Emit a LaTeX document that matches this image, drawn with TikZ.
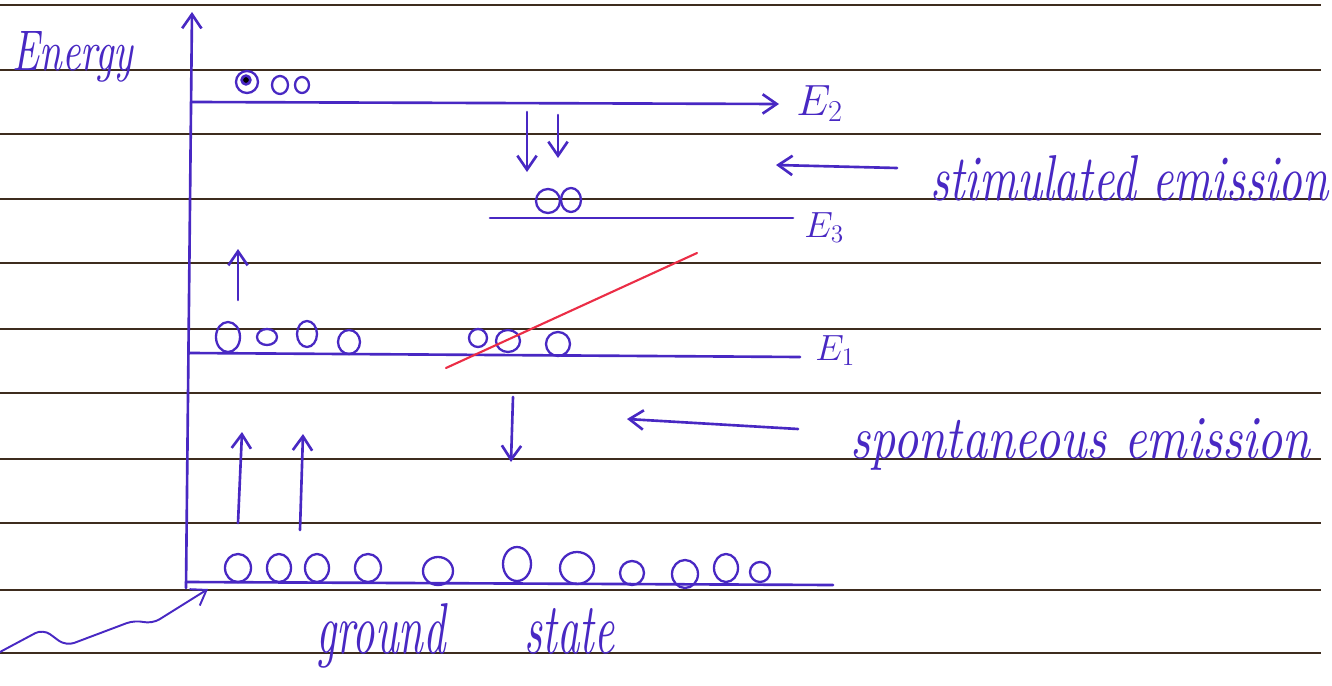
\documentclass[tikz,border=0pt]{standalone}
\usetikzlibrary{arrows.meta}
\definecolor{ink}{RGB}{72,40,195}
\definecolor{rulec}{RGB}{62,44,30}
\definecolor{redink}{RGB}{235,45,70}
\tikzset{
  ink/.style={draw=ink, line width=1.5pt, line cap=round, line join=round},
  tip/.style={-{Straight Barb[length=8pt,width=11pt]}},
  ruled/.style={draw=rulec, line width=1.1pt},
  hand/.style={text=ink, inner sep=0pt, font=\itshape},
  particle/.style={draw=ink, line width=1.3pt}
}
\begin{document}
\begin{tikzpicture}[x=0.02cm,y=-0.02cm]
\useasboundingbox[fill=white] (0,0) rectangle (1332,686);
% ruled paper
\foreach \yy in {5,70,134,199,263,329,393,459,523,590,653}
  \draw[ruled] (0,\yy) -- (1321,\yy);

% energy axis
\coordinate (axb) at (186,588);
\coordinate (axt) at (192,12);
\draw[ink,tip] (axb) -- (axt);
\node[hand, anchor=base west] (energy) at (12,71) {\resizebox{2.42cm}{0.78cm}{Energy}};

% levels
\coordinate (e2a) at (192,102); \coordinate (e2b) at (779,104);
\draw[ink,tip] (e2a) -- (e2b);
\node[hand, anchor=base west] (E2) at (796,115) {\fontsize{23}{23}\selectfont$E_2$};

\coordinate (e3a) at (490,218); \coordinate (e3b) at (793,218);
\draw[ink] (e3a) -- (e3b);
\node[hand, anchor=base west] (E3) at (804,237) {\fontsize{22}{22}\selectfont$E_3$};

\coordinate (e1a) at (190,353); \coordinate (e1b) at (800,357);
\draw[ink] (e1a) -- (e1b);
\node[hand, anchor=base west] (E1) at (815,360) {\fontsize{21}{21}\selectfont$E_1$};

\coordinate (g0a) at (186,582); \coordinate (g0b) at (833,585);
\draw[ink] (g0a) -- (g0b);
\node[hand, anchor=base west] (ground) at (316,653) {\resizebox{5.96cm}{1.0cm}{ground\hspace{1.8em}state}};

% particles
\foreach \cx/\cy/\rx/\ry in {247/82/11/11, 280/85/8/9, 302/85/7/8,
  548/201/12/12, 571/200/10/12,
  228/337/12/15, 267/337/10/8, 307/334/10/13, 349/342/11/12,
  478/338/9/9, 508/341/12/11, 558/344/12/12,
  238/568/13/14, 279/568/12/14, 317/568/12/14, 368/568/13/14, 438/571/15/14,
  517/564/14/17, 577/568/17/16, 632/573/12/12, 685/574/13/14, 726/568/12/14, 760/572/10/10}
  \draw[particle] (\cx,\cy) ellipse [x radius=\rx*0.02cm, y radius=\ry*0.02cm];
\fill[ink] (246,80) circle [radius=2.5pt];

% transitions
\coordinate (d1a) at (527,112); \coordinate (d1b) at (527,172);
\coordinate (d2a) at (558,115); \coordinate (d2b) at (558,158);
\draw[ink,tip] (d1a) -- (d1b);
\draw[ink,tip] (d2a) -- (d2b);

\coordinate (sa) at (897,168); \coordinate (sb) at (776,165);
\draw[ink,tip] (sa) -- (sb);
\node[hand, anchor=base west] (stim) at (930,200) {\resizebox{7.96cm}{0.9cm}{stimulated emission}};

\coordinate (u1a) at (238,300); \coordinate (u1b) at (238,249);
\draw[ink,tip] (u1a) -- (u1b);

\coordinate (u2a) at (238,523); \coordinate (u2b) at (242,432);
\coordinate (u3a) at (300,530); \coordinate (u3b) at (303,434);
\draw[ink,tip] (u2a) -- (u2b);
\draw[ink,tip] (u3a) -- (u3b);

\coordinate (dda) at (513,397); \coordinate (ddb) at (511,462);
\draw[ink,tip] (dda) -- (ddb);

\coordinate (pa) at (798,429); \coordinate (pb) at (627,419);
\draw[ink,tip] (pa) -- (pb);
\node[hand, anchor=base west] (spont) at (850,458) {\resizebox{9.2cm}{0.8cm}{spontaneous emission}};

% wavy pointer to ground level
\coordinate (w0) at (0,652); \coordinate (w1) at (43,629); \coordinate (w2) at (66,646);
\coordinate (w3) at (135,620); \coordinate (w4) at (152,624); \coordinate (w5) at (208,589);
\draw[ink, line width=1.1pt, rounded corners=5pt, tip] (w0) -- (w1) -- (w2) -- (w3) -- (w4) -- (w5);

% red strike
\coordinate (r1) at (446,368); \coordinate (r2) at (697,253);
\draw[redink, line width=1.2pt, line cap=round] (r1) -- (r2);
\end{tikzpicture}
\end{document}
